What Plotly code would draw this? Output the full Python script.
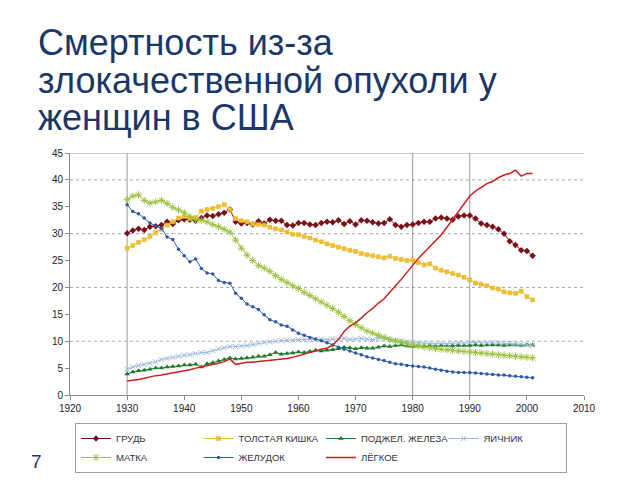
import plotly.graph_objects as go

years = list(range(1930, 2002))

breast = [30.1, 30.6, 30.9, 30.7, 31.3, 31.4, 31.6, 32.2, 31.8, 32.5,
          32.7, 32.6, 32.4, 32.9, 33.4, 33.3, 33.6, 33.9, 34.5, 32.2,
          31.9, 32.0, 31.7, 32.3, 31.9, 32.6, 32.4, 32.4, 31.6, 31.5,
          32.0, 32.0, 31.7, 31.6, 32.0, 32.2, 32.1, 32.5, 31.8, 32.3,
          31.7, 32.5, 32.4, 32.1, 31.9, 32.0, 32.7, 31.6, 31.3, 31.6,
          31.7, 32.0, 32.2, 32.2, 32.8, 33.0, 32.8, 32.6, 33.2, 33.4,
          33.4, 32.8, 31.9, 31.6, 31.3, 30.8, 30.0, 28.6, 27.9, 26.9,
          26.8, 25.9]
colon = [27.3, 27.8, 28.4, 28.9, 29.5, 30.2, 30.8, 31.6, 32.2, 32.9,
         33.2, 32.8, 33.0, 34.2, 34.5, 34.7, 35.0, 35.4, 34.5, 32.8,
         32.4, 32.2, 31.8, 31.7, 31.6, 31.2, 30.9, 30.7, 30.3, 29.9,
         29.8, 29.5, 29.2, 28.8, 28.5, 28.1, 27.8, 27.5, 27.2, 26.9,
         26.7, 26.3, 26.1, 25.9, 25.7, 25.5, 25.8, 25.4, 25.2, 25.0,
         25.1, 24.6, 24.2, 24.4, 23.6, 23.2, 22.9, 22.6, 22.3, 21.9,
         21.4, 20.8, 20.6, 20.3, 19.9, 19.7, 19.2, 19.0, 18.9, 19.3,
         18.3, 17.7]
pancreas = [3.9, 4.3, 4.5, 4.6, 4.8, 5.0, 5.0, 5.2, 5.3, 5.4,
            5.6, 5.6, 5.7, 5.2, 5.8, 6.0, 6.3, 6.6, 6.9, 6.7,
            6.8, 6.9, 7.0, 7.2, 7.2, 7.5, 7.9, 7.6, 7.7, 7.8,
            8.0, 7.9, 8.1, 8.3, 8.2, 8.3, 8.4, 8.6, 8.9, 8.8,
            8.6, 8.8, 8.7, 8.7, 8.9, 9.1, 9.0, 9.2, 9.3, 9.1,
            9.0, 9.1, 9.0, 9.2, 9.1, 9.2, 9.2, 9.1, 9.2, 9.2,
            9.2, 9.3, 9.2, 9.3, 9.3, 9.3, 9.2, 9.3, 9.3, 9.2,
            9.3, 9.3]
ovary = [4.8, 5.2, 5.5, 5.7, 5.9, 6.2, 6.6, 6.8, 7.0, 7.2,
         7.4, 7.5, 7.7, 7.9, 7.9, 8.2, 8.6, 8.8, 9.0, 9.0,
         9.1, 9.2, 9.4, 9.6, 9.8, 9.9, 10.0, 10.1, 10.2, 10.2,
         10.3, 10.3, 10.4, 10.3, 10.4, 10.3, 10.4, 10.4, 10.5, 10.3,
         10.4, 10.5, 10.4, 10.3, 10.5, 10.6, 10.4, 10.2, 10.1, 9.9,
         9.8, 9.7, 9.6, 9.6, 9.5, 9.6, 9.5, 9.6, 9.7, 9.6,
         9.7, 9.8, 9.7, 9.7, 9.8, 9.7, 9.6, 9.6, 9.5, 9.4,
         9.3, 9.2]
uterus = [36.3, 37.0, 37.2, 36.2, 35.7, 35.9, 36.2, 35.6, 34.9, 34.4,
          33.9, 33.2, 32.6, 32.5, 32.2, 31.7, 31.3, 30.8, 30.3, 28.8,
          27.3, 26.0, 25.0, 24.1, 23.6, 23.0, 22.2, 21.5, 20.9, 20.3,
          19.8, 19.1, 18.5, 17.9, 17.3, 16.7, 16.1, 15.4, 14.6, 13.8,
          13.1, 12.5, 11.9, 11.5, 11.1, 10.7, 10.3, 10.0, 9.8, 9.5,
          9.3, 9.1, 8.9, 8.8, 8.6, 8.5, 8.4, 8.3, 8.2, 8.1,
          8.0, 7.9, 7.8, 7.7, 7.6, 7.5, 7.4, 7.3, 7.2, 7.1,
          7.0, 6.9]
stomach = [35.4, 34.1, 33.7, 32.9, 32.0, 31.4, 31.0, 29.4, 28.9, 27.1,
           25.9, 24.8, 25.3, 23.5, 22.7, 22.5, 21.3, 20.9, 20.8, 18.9,
           18.0, 16.9, 16.4, 15.9, 14.9, 14.0, 13.6, 13.0, 12.8, 12.1,
           11.5, 11.1, 10.7, 10.4, 10.1, 9.7, 9.3, 8.9, 8.5, 8.2,
           7.8, 7.5, 7.1, 6.9, 6.6, 6.4, 6.1, 5.8, 5.7, 5.5,
           5.4, 5.3, 5.2, 5.0, 4.8, 4.6, 4.4, 4.3, 4.2, 4.2,
           4.2, 4.1, 4.0, 3.9, 3.8, 3.7, 3.7, 3.6, 3.5, 3.4,
           3.3, 3.2]
lung = [2.6, 2.7, 2.9, 3.1, 3.4, 3.6, 3.7, 3.9, 4.0, 4.2,
        4.4, 4.7, 5.0, 5.2, 5.4, 5.6, 5.9, 6.2, 6.7, 5.7,
        5.9, 6.1, 6.1, 6.2, 6.3, 6.4, 6.5, 6.6, 6.8, 7.0,
        7.3, 7.6, 8.0, 8.2, 8.5, 8.7, 9.3, 10.3, 11.8, 12.8,
        13.4, 14.3, 15.3, 16.1, 17.1, 17.9, 19.0, 20.3, 21.5, 22.8,
        24.3, 25.4, 26.5, 27.6, 28.6, 29.8, 31.2, 32.6, 34.0, 35.6,
        37.0, 37.9, 38.6, 39.3, 39.7, 40.4, 40.9, 41.2, 41.8, 40.7,
        41.2, 41.2]

x_ticks = [1920, 1930, 1940, 1950, 1960, 1970, 1980, 1990, 2000, 2010]
y_ticks = [0, 5, 10, 15, 20, 25, 30, 35, 40, 45]
grid_y = [10, 20, 30, 40]
vlines = [1930, 1980, 1990]

title_lines = ["Смертность из-за", "злокачественной опухоли у", "женщин в США"]

FONT = "Liberation Sans, Arial, sans-serif"
W, H = 640, 480
ML, MR, MT, MB = 70, 56, 153, 85
PH = H - MT - MB


def py(ypx):
    return (H - MB - ypx) / PH


def px(xpx):
    return (xpx - ML) / (W - ML - MR)


fig = go.Figure()

series = [
    ("ГРУДЬ", breast, "#7a1018", dict(symbol="diamond", size=5, color="#7a1018"), 1),
    ("ТОЛСТАЯ КИШКА", colon, "#f0c030", dict(symbol="square", size=4, color="#f0c030",
                                             line=dict(color="#e0b020", width=0.5)), 1),
    ("ПОДЖЕЛ. ЖЕЛЕЗА", pancreas, "#1e7a2a", dict(symbol="triangle-up", size=5, color="#1e7a2a"), 1),
    ("ЯИЧНИК", ovary, "#9ab8dc", dict(symbol="x-thin-open", size=5, color="#9ab8dc",
                                      line=dict(color="#9ab8dc", width=1)), 1),
    ("МАТКА", uterus, "#9cc23c", dict(symbol="asterisk-open", size=6, color="#9cc23c",
                                     line=dict(color="#9cc23c", width=1)), 1),
    ("ЖЕЛУДОК", stomach, "#2d5aa8", dict(symbol="circle", size=3.5, color="#2d5aa8"), 1),
]

for name, vals, col, mk, lw in series:
    fig.add_trace(go.Scatter(x=years, y=vals, name=name, mode="lines+markers",
                             line=dict(color=col, width=lw), marker=mk))

fig.add_trace(go.Scatter(x=years, y=lung, name="ЛЁГКОЕ", mode="lines",
                         line=dict(color="#cc1f1f", width=1.5)))

shapes = []
for gy in grid_y:
    shapes.append(dict(type="line", xref="x", yref="y", x0=1920, x1=2010, y0=gy, y1=gy,
                       line=dict(color="#a8a8a8", width=1, dash="dot"), layer="below"))
for vx in vlines:
    shapes.append(dict(type="line", xref="x", yref="y", x0=vx, x1=vx, y0=0, y1=45,
                       line=dict(color="#9a9a9a", width=1), layer="below"))
shapes.append(dict(type="line", xref="x", yref="y", x0=1920, x1=2010, y0=45, y1=45,
                   line=dict(color="#9a9a9a", width=1), layer="below"))

annotations = []
title_y = [42, 80, 117]
for t, yy in zip(title_lines, title_y):
    annotations.append(dict(text=t, xref="paper", yref="paper", x=px(36), y=py(yy),
                            xanchor="left", yanchor="middle", showarrow=False,
                            font=dict(family=FONT, size=36, color="#1b3768")))
annotations.append(dict(text="7", xref="paper", yref="paper", x=px(29), y=py(461),
                        xanchor="left", yanchor="middle", showarrow=False,
                        font=dict(family=FONT, size=19, color="#1b3768")))

fig.update_layout(
    width=W, height=H,
    margin=dict(l=ML, r=MR, t=MT, b=MB, pad=0, autoexpand=False),
    paper_bgcolor="white", plot_bgcolor="white",
    font=dict(family=FONT, size=10, color="#222222"),
    showlegend=True,
    legend=dict(orientation="h", x=px(75), y=py(423), xanchor="left", yanchor="top",
                entrywidth=77.5, entrywidthmode="pixels", itemwidth=30,
                bordercolor="#a0a0a0", borderwidth=1, bgcolor="white",
                font=dict(family=FONT, size=9.5, color="#333333"),
                tracegroupgap=0, traceorder="normal"),
    xaxis=dict(range=[1920, 2010], tickvals=x_ticks, ticktext=[str(v) for v in x_ticks],
               showgrid=False, zeroline=False, showline=True, linecolor="#8a8a8a", linewidth=1,
               ticks="outside", ticklen=4, tickcolor="#8a8a8a",
               tickfont=dict(family=FONT, size=10, color="#222222"), fixedrange=True),
    yaxis=dict(range=[0, 45], tickvals=y_ticks, ticktext=[str(v) for v in y_ticks],
               showgrid=False, zeroline=False, showline=True, linecolor="#8a8a8a", linewidth=1,
               ticks="outside", ticklen=4, tickcolor="#8a8a8a",
               tickfont=dict(family=FONT, size=10, color="#222222"), fixedrange=True),
    shapes=shapes,
    annotations=annotations,
)

fig.write_html("out.html")
